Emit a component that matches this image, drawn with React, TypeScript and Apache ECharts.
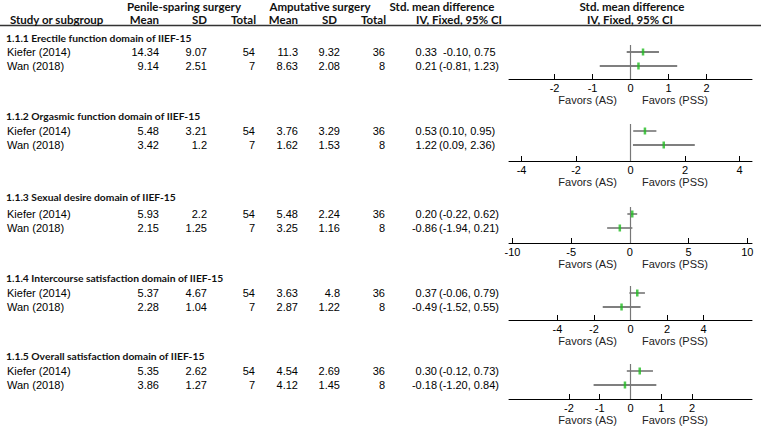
import React, { useEffect, useRef } from "react";
import * as echarts from "echarts";

const sectionTitles = [
  "1.1.1 Erectile function domain of IIEF-15",
  "1.1.2 Orgasmic function domain of IIEF-15",
  "1.1.3 Sexual desire domain of IIEF-15",
  "1.1.4 Intercourse satisfaction domain of IIEF-15",
  "1.1.5 Overall satisfaction domain of IIEF-15",
];
const studies = ["Kiefer (2014)", "Wan (2018)"];

const pssMean = [[14.34, 9.14], [5.48, 3.42], [5.93, 2.15], [5.37, 2.28], [5.35, 3.86]];
const pssSD = [[9.07, 2.51], [3.21, 1.2], [2.2, 1.25], [4.67, 1.04], [2.62, 1.27]];
const pssTotal = [[54, 7], [54, 7], [54, 7], [54, 7], [54, 7]];
const asMean = [[11.3, 8.63], [3.76, 1.62], [5.48, 3.25], [3.63, 2.87], [4.54, 4.12]];
const asSD = [[9.32, 2.08], [3.29, 1.53], [2.24, 1.16], [4.8, 1.22], [2.69, 1.45]];
const asTotal = [[36, 8], [36, 8], [36, 8], [36, 8], [36, 8]];
const smd = [[0.33, 0.21], [0.53, 1.22], [0.2, -0.86], [0.37, -0.49], [0.3, -0.18]];
const ciLow = [[-0.1, -0.81], [0.1, 0.09], [-0.22, -1.94], [-0.06, -1.52], [-0.12, -1.2]];
const ciHigh = [[0.75, 1.23], [0.95, 2.36], [0.62, 0.21], [0.79, 0.55], [0.73, 0.84]];
const ciBracketed = [[false, true], [true, true], [true, true], [true, true], [true, true]];
const axisMin = [-3.2, -4.46, -10.3, -6.65, -3.95];
const axisMax = [3.2, 4.46, 10.4, 6.65, 3.95];
const tickValues = [
  [-2, -1, 0, 1, 2],
  [-4, -2, 0, 2, 4],
  [-10, -5, 0, 5, 10],
  [-4, -2, 0, 2, 4],
  [-2, -1, 0, 1, 2],
];
const favorsLeft = "Favors (AS)";
const favorsRight = "Favors (PSS)";

// layout (pixels)
const titleY = [38, 116, 197, 278, 356];
const rowY = [52, 131, 214, 293, 371];
const rowGap = 14;
const axisY = [79, 161, 243, 320, 399];
const plotLeft = 509;
const plotRight = 752;

const SANS = '"Liberation Sans", Arial, sans-serif';
const BOLD = 'bold 11.5px Lato, "Liberation Sans", sans-serif';
const BOLD_T = 'bold 10.3px Lato, "Liberation Sans", sans-serif';
const REG = `11px ${SANS}`;

function txt(text: string, x: number, y: number, align: string, font: string, fill = "#111") {
  return {
    type: "text",
    x,
    y,
    silent: true,
    style: { text, font, fill, textAlign: align, textVerticalAlign: "middle" },
  };
}

export default function App() {
  const ref = useRef<HTMLDivElement>(null);
  useEffect(() => {
    document.body.style.margin = "0";
    if (!ref.current) return;
    const chart = echarts.init(ref.current, null, { renderer: "svg" });

    const graphic: any[] = [];
    graphic.push({
      type: "line",
      silent: true,
      shape: { x1: 0, y1: 25.5, x2: 761, y2: 25.5 },
      style: { stroke: "#333", lineWidth: 1.5 },
    });
    graphic.push(txt("Penile-sparing surgery", 184, 6, "center", BOLD));
    graphic.push(txt("Amputative surgery", 320, 6, "center", BOLD));
    graphic.push(txt("Std. mean difference", 442, 6, "center", BOLD));
    graphic.push(txt("IV, Fixed, 95% CI", 459, 19, "center", BOLD));
    graphic.push(txt("Std. mean difference", 632, 6, "center", BOLD));
    graphic.push(txt("IV, Fixed, 95% CI", 630, 19, "center", BOLD));
    graphic.push(txt("Study or subgroup", 10, 19, "left", BOLD));
    graphic.push(txt("Mean", 159, 19, "right", BOLD));
    graphic.push(txt("SD", 207, 19, "right", BOLD));
    graphic.push(txt("Total", 256, 19, "right", BOLD));
    graphic.push(txt("Mean", 298, 19, "right", BOLD));
    graphic.push(txt("SD", 337, 19, "right", BOLD));
    graphic.push(txt("Total", 386, 19, "right", BOLD));

    const grids: any[] = [];
    const xAxes: any[] = [];
    const yAxes: any[] = [];
    const series: any[] = [];

    sectionTitles.forEach((title, s) => {
      graphic.push(txt(title, 6, titleY[s], "left", BOLD_T));
      studies.forEach((st, r) => {
        const y = rowY[s] + r * rowGap;
        graphic.push(txt(st, 7, y, "left", REG, "#000"));
        graphic.push(txt(String(pssMean[s][r]), 159, y, "right", REG, "#000"));
        graphic.push(txt(String(pssSD[s][r]), 207, y, "right", REG, "#000"));
        graphic.push(txt(String(pssTotal[s][r]), 255, y, "right", REG, "#000"));
        graphic.push(txt(String(asMean[s][r]), 298, y, "right", REG, "#000"));
        graphic.push(txt(String(asSD[s][r]), 340, y, "right", REG, "#000"));
        graphic.push(txt(String(asTotal[s][r]), 385, y, "right", REG, "#000"));
        graphic.push(txt(smd[s][r].toFixed(2), 437, y, "right", REG, "#000"));
        const ci = `${ciLow[s][r].toFixed(2)}, ${ciHigh[s][r].toFixed(2)}`;
        if (ciBracketed[s][r]) graphic.push(txt(`(${ci})`, 439, y, "left", REG, "#000"));
        else graphic.push(txt(ci, 443, y, "left", REG, "#000"));
      });
      graphic.push(txt(favorsLeft, 617, axisY[s] + 21, "right", REG, "#222"));
      graphic.push(txt(favorsRight, 642, axisY[s] + 21, "left", REG, "#222"));

      const top = rowY[s] - 7;
      const h = axisY[s] - top;
      grids.push({ left: plotLeft, width: plotRight - plotLeft, top, height: h });
      xAxes.push({
        type: "value",
        gridIndex: s,
        min: axisMin[s],
        max: axisMax[s],
        splitLine: { show: false },
        axisLine: { show: true, onZero: false, lineStyle: { color: "#000", width: 1 } },
        axisTick: { show: true, inside: true, length: 5, customValues: tickValues[s], lineStyle: { color: "#000", width: 1 } },
        axisLabel: {
          show: true,
          customValues: tickValues[s],
          color: "#000",
          fontSize: 11,
          fontFamily: SANS,
          margin: 3,
        },
      });
      yAxes.push({
        type: "value",
        gridIndex: s,
        inverse: true,
        min: -0.5,
        max: -0.5 + h / rowGap,
        show: false,
      });
      series.push({
        type: "custom",
        xAxisIndex: s,
        yAxisIndex: s,
        silent: true,
        encode: { x: [0, 1], y: 2 },
        data: studies.map((_, r) => [ciLow[s][r], ciHigh[s][r], r]),
        renderItem: (params: any, api: any) => {
          const p1 = api.coord([api.value(0), api.value(2)]);
          const p2 = api.coord([api.value(1), api.value(2)]);
          return {
            type: "line",
            shape: { x1: p1[0], y1: p1[1], x2: p2[0], y2: p2[1] },
            style: { stroke: "#555", lineWidth: 1.3 },
          };
        },
      });
      series.push({
        type: "scatter",
        xAxisIndex: s,
        yAxisIndex: s,
        silent: true,
        symbol: "rect",
        symbolSize: [2.5, 7],
        itemStyle: { color: "#22bb22" },
        data: studies.map((_, r) => [smd[s][r], r]),
        markLine: {
          silent: true,
          symbol: "none",
          label: { show: false },
          lineStyle: { color: "#777", width: 1.2, type: "solid" },
          data: [{ xAxis: 0 }],
        },
        z: 5,
      });
    });

    chart.setOption({
      animation: false,
      backgroundColor: "#fff",
      grid: grids,
      xAxis: xAxes,
      yAxis: yAxes,
      series,
      graphic,
    });
    return () => chart.dispose();
  }, []);
  return <div ref={ref} style={{ width: 761, height: 428 }} />;
}
